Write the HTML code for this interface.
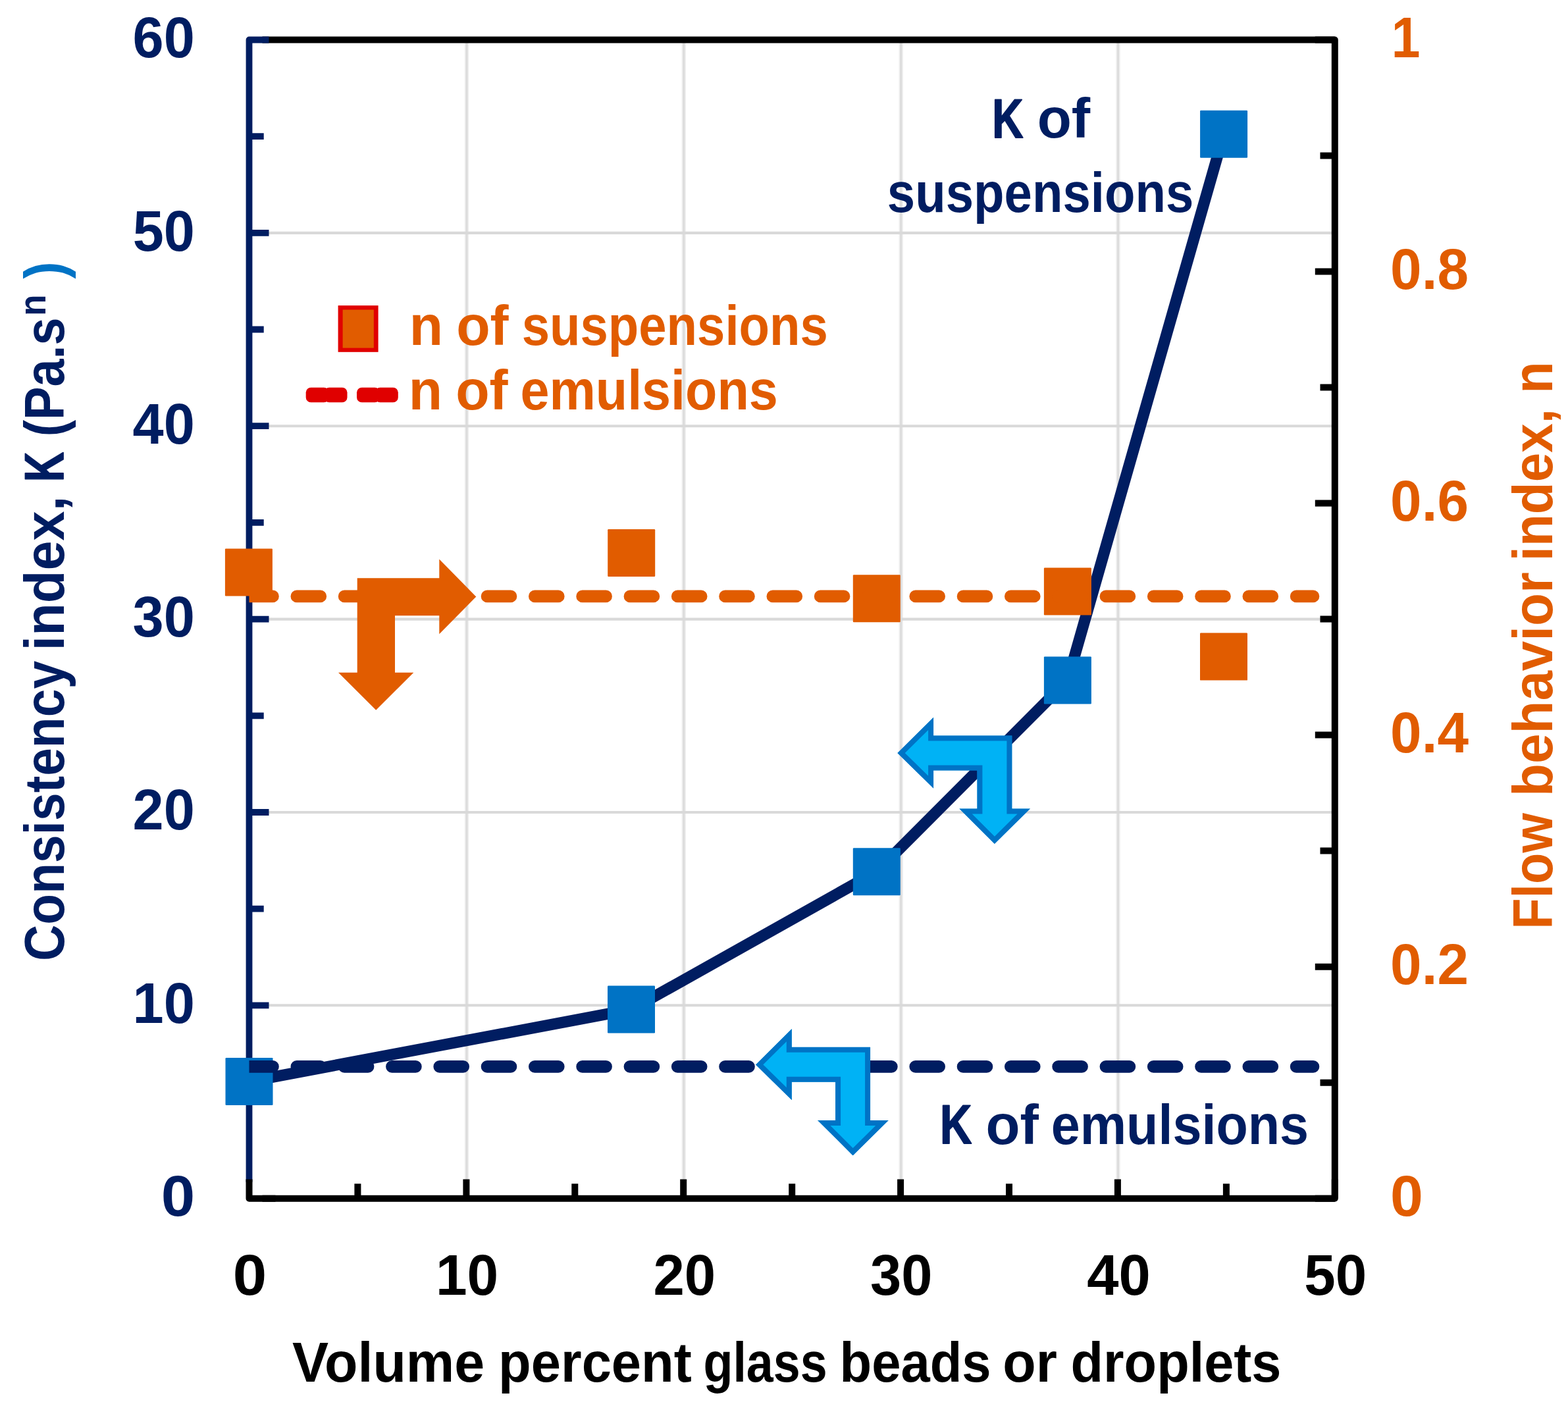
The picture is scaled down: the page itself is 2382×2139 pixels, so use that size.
<!DOCTYPE html>
<html lang="en">
<head>
<meta charset="utf-8">
<title>Consistency index and flow behavior index vs volume percent</title>
<style>
html,body{margin:0;padding:0;background:#fff;}
body{width:2382px;height:2139px;}
svg{display:block;}
</style>
</head>
<body>
<svg width="2382" height="2139" viewBox="0 0 2382 2139" font-family="'Liberation Sans', sans-serif" font-weight="bold" role="img" aria-label="Consistency index K and flow behavior index n versus volume percent glass beads or droplets">
<rect width="2382" height="2139" fill="#fff"/>
<defs><clipPath id="plotclip"><rect x="378.5" y="60.5" width="1649.3" height="1760.2"/></clipPath></defs>
<path d="M709.0 60.5V1820.7M1038.8 60.5V1820.7M1368.7 60.5V1820.7M1698.5 60.5V1820.7" stroke="#F0F0F0" stroke-width="6.6" fill="none"/>
<path d="M709.0 60.5V1820.7M1038.8 60.5V1820.7M1368.7 60.5V1820.7M1698.5 60.5V1820.7" stroke="#DCDCDC" stroke-width="3.2" fill="none"/>
<path d="M378.5 1527.3H2027.8M378.5 1234.0H2027.8M378.5 940.6H2027.8M378.5 647.2H2027.8M378.5 353.9H2027.8" stroke="#D9D9D9" stroke-width="4.1" fill="none"/>
<path d="M398.5 60.5H2027.8V1820.7H398.5" stroke="#000" stroke-width="10" fill="none" stroke-linejoin="round"/>
<path d="M2027.8 1820.7h-30M2027.8 1644.7h-22.3M2027.8 1468.7h-30M2027.8 1292.6h-22.3M2027.8 1116.6h-30M2027.8 940.6h-22.3M2027.8 764.6h-30M2027.8 588.6h-22.3M2027.8 412.5h-30M2027.8 236.5h-22.3M2027.8 60.5h-30" stroke="#000" stroke-width="10" fill="none"/>
<path d="M408.5 60.5H378.5V1795.7M378.5 1674.0h22.2M378.5 1527.3h30M378.5 1380.7h22.2M378.5 1234.0h30M378.5 1087.3h22.2M378.5 940.6h30M378.5 793.9h22.2M378.5 647.2h30M378.5 500.5h22.2M378.5 353.9h30M378.5 207.2h22.2" stroke="#001D61" stroke-width="9.8" fill="none" stroke-linejoin="round"/>
<path d="M543.4 1820.7v-22.5M708.4 1820.7v-29.3M873.3 1820.7v-22.5M1038.2 1820.7v-29.3M1203.2 1820.7v-22.5M1368.1 1820.7v-29.3M1533.0 1820.7v-22.5M1697.9 1820.7v-29.3M1862.9 1820.7v-22.5M2027.8 1820.7v-29.3M378.5 1791.4V1820.7H418.5" stroke="#000" stroke-width="10" fill="none" stroke-linejoin="round"/>
<polyline points="378.5,1643.0 959.0,1533.5 1331.8,1324.3 1621.9,1033.4 1859.1,203.7" stroke="#001D61" stroke-width="17.2" fill="none" stroke-linejoin="round"/>
<rect x="342.5" y="1607.0" width="72" height="72" rx="1.2" fill="#0073C5"/>
<rect x="923.0" y="1497.5" width="72" height="72" rx="1.2" fill="#0073C5"/>
<rect x="1295.8" y="1288.3" width="72" height="72" rx="1.2" fill="#0073C5"/>
<rect x="1585.9" y="997.4" width="72" height="72" rx="1.2" fill="#0073C5"/>
<rect x="1823.1" y="167.7" width="72" height="72" rx="1.2" fill="#0073C5"/>
<path d="M378.5 1620.4H1995" stroke="#001D61" stroke-width="18.6" stroke-dasharray="36 36.3" stroke-linecap="round" fill="none" clip-path="url(#plotclip)"/>
<rect x="341.9" y="833.4" width="72" height="72" rx="1.2" fill="#E15C00"/>
<rect x="923.2" y="804.0" width="72" height="72" rx="1.2" fill="#E15C00"/>
<rect x="1295.8" y="873.2" width="72" height="72" rx="1.2" fill="#E15C00"/>
<rect x="1585.9" y="862.5" width="72" height="72" rx="1.2" fill="#E15C00"/>
<rect x="1823.0" y="961.6" width="72" height="72" rx="1.2" fill="#E15C00"/>
<path d="M378.5 905.9H1995" stroke="#E15C00" stroke-width="18.6" stroke-dasharray="36 36.3" stroke-linecap="round" fill="none" clip-path="url(#plotclip)"/>
<path d="M542.7 878.3H667.3V849.6L723.3 906.4L667.3 963.2V935.3H600V1021.7H628.3L571.2 1078.7L514 1021.7H542.7Z" fill="#E15C00"/>
<defs><path id="arw" d="M1363.3 1144.0L1418.1 1089.7V1117.4H1537.4V1228.5H1565.1L1510.9 1282.0L1457.3 1228.5H1484.4V1170.4H1418.1V1197.8Z"/><clipPath id="arwc"><use href="#arw"/></clipPath></defs>
<g transform="translate(0,0)"><use href="#arw" fill="#00B2F5" stroke="#0073C5" stroke-width="16" stroke-linejoin="miter" clip-path="url(#arwc)"/></g>
<g transform="translate(-215.3,473.4)"><use href="#arw" fill="#00B2F5" stroke="#0073C5" stroke-width="16" stroke-linejoin="miter" clip-path="url(#arwc)"/></g>
<rect x="513.6" y="464.1" width="61" height="70.7" fill="#E00000"/>
<rect x="520.6" y="470.5" width="47.2" height="58.1" fill="#E15C00"/>
<rect x="464.7" y="588.8" width="35" height="22.4" rx="7.5" fill="#E00000"/>
<rect x="492.5" y="588.8" width="35" height="22.4" rx="7.5" fill="#E00000"/>
<rect x="542.0" y="588.8" width="35" height="22.4" rx="7.5" fill="#E00000"/>
<rect x="569.8" y="588.8" width="35" height="22.4" rx="7.5" fill="#E00000"/>
<g id="t-yl60">
<text transform="translate(201.57,87.30) scale(0.9737,1)" font-size="87.0" fill="#001D61">60</text>
</g>
<g id="t-yl50">
<text transform="translate(201.66,380.90) scale(0.9727,1)" font-size="87.0" fill="#001D61">50</text>
</g>
<g id="t-yl40">
<text transform="translate(201.53,674.10) scale(0.9741,1)" font-size="87.0" fill="#001D61">40</text>
</g>
<g id="t-yl30">
<text transform="translate(201.50,967.40) scale(0.9744,1)" font-size="87.0" fill="#001D61">30</text>
</g>
<g id="t-yl20">
<text transform="translate(201.56,1260.10) scale(0.9737,1)" font-size="87.0" fill="#001D61">20</text>
</g>
<g id="t-yl10">
<text transform="translate(201.52,1554.40) scale(0.9742,1)" font-size="87.0" fill="#001D61">10</text>
</g>
<g id="t-yl0">
<text transform="translate(244.83,1847.10) scale(1.0626,1)" font-size="87.0" fill="#001D61">0</text>
</g>
<g id="t-yr1">
<text transform="translate(2113.63,87.00) scale(0.9044,1)" font-size="87.0" fill="#E15C00">1</text>
</g>
<g id="t-yr0_8">
<text transform="translate(2112.10,438.70) scale(0.9835,1)" font-size="87.0" fill="#E15C00">0.8</text>
</g>
<g id="t-yr0_6">
<text transform="translate(2112.10,791.10) scale(0.9833,1)" font-size="87.0" fill="#E15C00">0.6</text>
</g>
<g id="t-yr0_4">
<text transform="translate(2112.10,1143.20) scale(0.9833,1)" font-size="87.0" fill="#E15C00">0.4</text>
</g>
<g id="t-yr0_2">
<text transform="translate(2112.10,1495.00) scale(0.9831,1)" font-size="87.0" fill="#E15C00">0.2</text>
</g>
<g id="t-yr0">
<text transform="translate(2112.04,1847.10) scale(1.0311,1)" font-size="87.0" fill="#E15C00">0</text>
</g>
<g id="t-x0">
<text transform="translate(353.73,1966.80) scale(1.0626,1)" font-size="87.0" fill="#000">0</text>
</g>
<g id="t-x10">
<text transform="translate(661.89,1966.80) scale(0.9841,1)" font-size="87.0" fill="#000">10</text>
</g>
<g id="t-x20">
<text transform="translate(992.55,1966.80) scale(0.9782,1)" font-size="87.0" fill="#000">20</text>
</g>
<g id="t-x30">
<text transform="translate(1322.09,1966.80) scale(0.9746,1)" font-size="87.0" fill="#000">30</text>
</g>
<g id="t-x40">
<text transform="translate(1651.17,1966.80) scale(0.9972,1)" font-size="87.0" fill="#000">40</text>
</g>
<g id="t-x50">
<text transform="translate(1981.23,1966.80) scale(0.9816,1)" font-size="87.0" fill="#000">50</text>
</g>
<g id="t-xt">
<text transform="translate(444.06,2099.20) scale(0.9776,1)" font-size="84.5" fill="#000">Volume</text>
<text transform="translate(757.11,2099.20) scale(0.9624,1)" font-size="84.5" fill="#000">percent</text>
<text transform="translate(1068.45,2099.20) scale(0.8709,1)" font-size="84.5" fill="#000">glass</text>
<text transform="translate(1275.53,2099.20) scale(0.9417,1)" font-size="84.5" fill="#000">beads</text>
<text transform="translate(1523.24,2099.20) scale(0.9778,1)" font-size="84.5" fill="#000">or</text>
<text transform="translate(1626.45,2099.20) scale(0.9601,1)" font-size="84.5" fill="#000">droplets</text>
</g>
<g id="t-leg1">
<text transform="translate(621.72,524.40) scale(0.9936,1)" font-size="84.5" fill="#E15C00">n</text>
<text transform="translate(693.17,524.40) scale(0.9969,1)" font-size="84.5" fill="#E15C00">of</text>
<text transform="translate(792.75,524.40) scale(0.9005,1)" font-size="84.5" fill="#E15C00">suspensions</text>
</g>
<g id="t-leg2">
<text transform="translate(620.72,622.30) scale(0.9936,1)" font-size="84.5" fill="#E15C00">n</text>
<text transform="translate(692.17,622.30) scale(0.9969,1)" font-size="84.5" fill="#E15C00">of</text>
<text transform="translate(790.47,622.30) scale(0.9364,1)" font-size="84.5" fill="#E15C00">emulsions</text>
</g>
<g id="t-ks1">
<text transform="translate(1507.24,208.60) scale(0.7883,1)" font-size="83.0" fill="#001D61" stroke="#001D61" stroke-width="1.8" stroke-linejoin="round">K</text>
<text transform="translate(1575.73,209.40) scale(1.0100,1)" font-size="84.5" fill="#001D61">of</text>
</g>
<g id="t-ks2">
<text transform="translate(1347.85,322.00) scale(0.9011,1)" font-size="84.5" fill="#001D61">suspensions</text>
</g>
<g id="t-ke">
<text transform="translate(1427.95,1737.20) scale(0.8064,1)" font-size="83.0" fill="#001D61" stroke="#001D61" stroke-width="1.8" stroke-linejoin="round">K</text>
<text transform="translate(1497.53,1738.00) scale(1.0086,1)" font-size="84.5" fill="#001D61">of</text>
<text transform="translate(1596.67,1738.00) scale(0.9367,1)" font-size="84.5" fill="#001D61">emulsions</text>
</g>
<g id="t-ytl">
<text transform="translate(96.90,1460.08) rotate(-90) scale(0.9080,1)" font-size="84.5" fill="#001D61">Consistency</text>
<text transform="translate(96.90,988.38) rotate(-90) scale(0.9611,1)" font-size="84.5" fill="#001D61">index,</text>
<text transform="translate(96.10,732.00) rotate(-90) scale(0.7538,1)" font-size="83.0" fill="#001D61" stroke="#001D61" stroke-width="1.8" stroke-linejoin="round">K</text>
<text transform="translate(96.90,663.29) rotate(-90) scale(0.8963,1)" font-size="84.5" fill="#001D61">(Pa.s</text>
<text transform="translate(69.20,480.04) rotate(-90) scale(0.9347,1)" font-size="57.0" fill="#001D61">n</text>
<text transform="translate(96.90,423.46) rotate(-90) scale(0.9271,1)" font-size="84.5" fill="#0073C5">)</text>
</g>
<g id="t-ytr">
<text transform="translate(2357.90,1411.79) rotate(-90) scale(0.9174,1)" font-size="84.5" fill="#E15C00">Flow</text>
<text transform="translate(2357.90,1209.92) rotate(-90) scale(0.9674,1)" font-size="84.5" fill="#E15C00">behavior</text>
<text transform="translate(2357.90,852.29) rotate(-90) scale(0.9469,1)" font-size="84.5" fill="#E15C00">index,</text>
<text transform="translate(2357.90,597.66) rotate(-90) scale(0.9372,1)" font-size="84.5" fill="#E15C00">n</text>
</g>
</svg>
</body>
</html>
